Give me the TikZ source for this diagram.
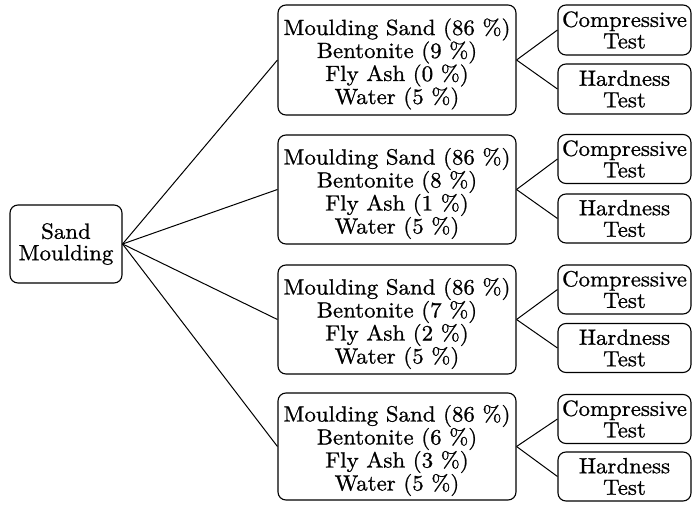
\documentclass[tikz,border=0pt]{standalone}
\usepackage{fontspec}
\setmainfont{lmroman10-regular}[Extension=.otf,FakeStretch=1.04,FakeBold=0.9]
% strut that lowers a four-line block inside its box
\newcommand\mixstrut{\rule{0pt}{24.5pt}}
\begin{document}
\begin{tikzpicture}[x=1pt,y=-1pt,
  box/.style={draw,line width=1.1pt,rounded corners=8pt,align=center,inner sep=0pt,
    font=\fontsize{22}{21.5}\selectfont},
  mixbox/.style={box,minimum width=238pt,minimum height=108pt,
    font=\fontsize{22}{23}\selectfont},
  testbox/.style={box,minimum width=133pt,minimum height=49pt},
  link/.style={line width=1pt}]
\useasboundingbox (0,0) rectangle (694,505);

\node[box,minimum width=112pt,minimum height=78pt] (root) at (66,244) {Sand\\Moulding};

\node[mixbox,minimum height=110pt] (m1) at (397,60)
  {\mixstrut Moulding Sand (86~\%)\\Bentonite (9~\%)\\Fly Ash (0~\%)\\Water (5~\%)};
\node[mixbox,minimum height=109pt] (m2) at (397,189.5)
  {\mixstrut Moulding Sand (86~\%)\\Bentonite (8~\%)\\Fly Ash (1~\%)\\Water (5~\%)};
\node[mixbox,minimum height=109pt] (m3) at (397,319.5)
  {\mixstrut Moulding Sand (86~\%)\\Bentonite (7~\%)\\Fly Ash (2~\%)\\Water (5~\%)};
\node[mixbox,minimum height=107pt] (m4) at (397,446.5)
  {\mixstrut Moulding Sand (86~\%)\\Bentonite (6~\%)\\Fly Ash (3~\%)\\Water (5~\%)};

\node[testbox,minimum height=50pt] (c1) at (624.5,30) {Compressive\\Test};
\node[testbox,minimum height=50pt] (h1) at (624.5,89) {Hardness\\Test};
\node[testbox] (c2) at (624.5,159) {Compressive\\Test};
\node[testbox] (h2) at (624.5,218.5) {Hardness\\Test};
\node[testbox] (c3) at (624.5,289.5) {Compressive\\Test};
\node[testbox] (h3) at (624.5,348) {Hardness\\Test};
\node[testbox] (c4) at (624.5,419) {Compressive\\Test};
\node[testbox] (h4) at (624.5,476.5) {Hardness\\Test};

\foreach \m in {m1,m2,m3,m4}
  \draw[link] (root.east) -- (\m.west);
\foreach \m/\c/\h in {m1/c1/h1,m2/c2/h2,m3/c3/h3,m4/c4/h4}{
  \draw[link] (\m.east) -- (\c.west);
  \draw[link] (\m.east) -- (\h.west);
}
\end{tikzpicture}
\end{document}
